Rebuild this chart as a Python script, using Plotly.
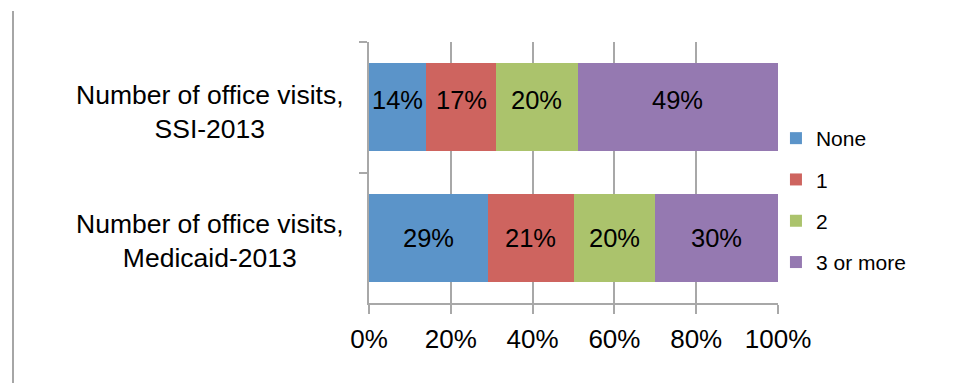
import plotly.graph_objects as go

# Office-visit distribution by program (percent of enrollees)
categories = ["Number of office visits,<br>SSI-2013",
              "Number of office visits,<br>Medicaid-2013"]
series_names = ["None", "1", "2", "3 or more"]
none_vals = [14, 29]
one_vals = [17, 21]
two_vals = [20, 20]
three_plus_vals = [49, 30]
x_ticks = [0, 20, 40, 60, 80, 100]

series_values = [none_vals, one_vals, two_vals, three_plus_vals]
colors = ["#5B94C9", "#CE645F", "#ABC36C", "#9579B1"]

FONT = "Arial, Liberation Sans, sans-serif"
W, H = 958, 386
L, R, T, B = 369, 180, 42, 83
grid_col = "#A8A8A8"

fig = go.Figure()
for name, vals, col in zip(series_names, series_values, colors):
    fig.add_trace(go.Bar(
        y=categories, x=vals, name=name, orientation="h",
        marker=dict(color=col, line=dict(width=0)),
        legendgroup=name, hoverinfo="skip",
    ))

# value labels centred inside each stacked segment
label_shift = [7, 0]
annotations = []
for ci, cat in enumerate(categories):
    start = 0
    for vals in series_values:
        v = vals[ci]
        annotations.append(dict(
            x=start + v / 2, y=cat, xref="x", yref="y",
            text=f"{v}%", showarrow=False, yshift=label_shift[ci],
            font=dict(family=FONT, size=25.5, color="black"),
        ))
        start += v

# centred category labels to the left of the axis
cat_shift = [-5, -3]
for ci, cat in enumerate(categories):
    annotations.append(dict(
        x=(210 - L) / (W - L - R), y=cat, xref="paper", yref="y",
        text=cat, showarrow=False, align="center", xanchor="center",
        yshift=cat_shift[ci],
        font=dict(family=FONT, size=26.5, color="black"),
    ))

pw, ph = W - L - R, H - T - B
fig.update_layout(
    width=W, height=H,
    margin=dict(l=L, r=R, t=T, b=B, pad=0),
    barmode="stack", bargap=0.326,
    paper_bgcolor="white", plot_bgcolor="white",
    font=dict(family=FONT, color="black"),
    annotations=annotations,
    showlegend=True,
    legend=dict(
        x=0.995, y=(H - B - 118) / ph, xanchor="left", yanchor="top",
        traceorder="grouped", tracegroupgap=11,
        font=dict(family=FONT, size=21, color="black"),
        bgcolor="rgba(0,0,0,0)",
    ),
    shapes=[dict(
        type="line", xref="paper", yref="paper",
        x0=(13 - L) / pw, x1=(13 - L) / pw,
        y0=(H - B - 11) / ph, y1=(H - B - 383) / ph,
        line=dict(color="#A6A6A6", width=2),
    )],
)
fig.update_xaxes(
    range=[0, 100], tickvals=x_ticks, ticktext=[f"{t}%" for t in x_ticks],
    showgrid=True, gridcolor=grid_col, gridwidth=2,
    showline=True, linecolor=grid_col, linewidth=2,
    ticks="outside", ticklen=9, tickwidth=2, tickcolor=grid_col,
    tickfont=dict(family=FONT, size=26, color="black"),
    ticklabelstandoff=3,
    zeroline=False, fixedrange=True,
)
fig.update_yaxes(
    autorange="reversed", showticklabels=False,
    showgrid=False, showline=True, linecolor=grid_col, linewidth=2,
    ticks="outside", ticklen=8, tickwidth=2, tickcolor=grid_col,
    tickson="boundaries", zeroline=False, fixedrange=True,
)

fig.write_html("out.html", config={"displayModeBar": False})
